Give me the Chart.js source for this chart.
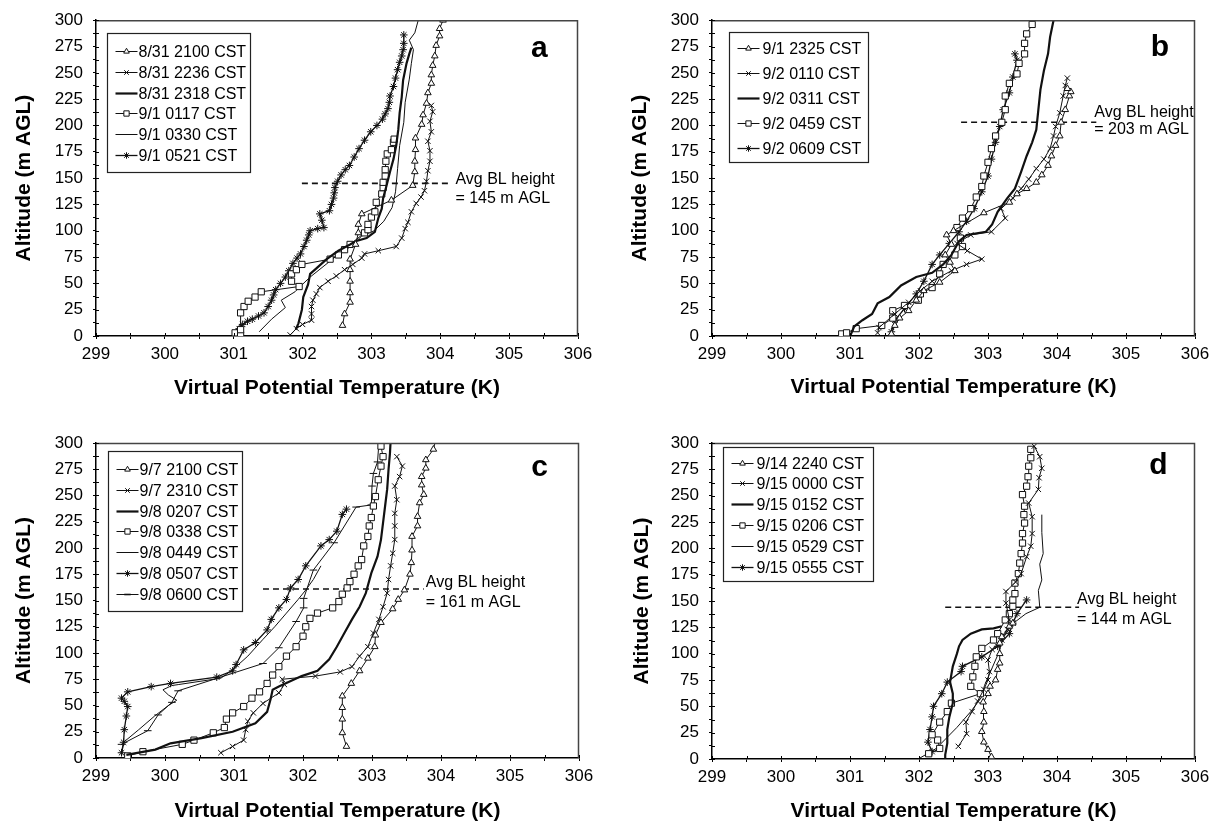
<!DOCTYPE html>
<html><head><meta charset="utf-8">
<script src="https://cdn.jsdelivr.net/npm/chart.js@4.4.1/dist/chart.umd.min.js"></script>
<style>
html,body{margin:0;padding:0;background:#fff;}
#wrap{position:relative;width:1219px;height:824px;overflow:hidden;}
canvas{position:absolute;}
</style></head><body>
<div id="wrap">
<canvas id="ca" width="610" height="412" style="left:0;top:0"></canvas>
<canvas id="cb" width="609" height="412" style="left:610px;top:0"></canvas>
<canvas id="cc" width="610" height="412" style="left:0;top:412px"></canvas>
<canvas id="cd" width="609" height="412" style="left:610px;top:412px"></canvas>
</div>
<script>
// ---------- axis / labels ----------
const xTitle = 'Virtual Potential Temperature (K)';
const yTitle = 'Altitude (m AGL)';
const xRange = [299, 306];
const yRange = [0, 300];
const panelLetters = ['a', 'b', 'c', 'd'];
const blHeights = [145, 203, 161, 144];
const blSpans = [[301.99, 304.14], [302.61, 304.57], [301.42, 303.75], [302.38, 304.32]];

// ---------- panel a ----------
const a_labels = ['8/31 2100 CST', '8/31 2236 CST', '8/31 2318 CST', '9/1 0117 CST', '9/1 0330 CST', '9/1 0521 CST'];
const a_2100 = [[302.58,10],[302.61,21],[302.69,32],[302.69,41],[302.69,52],[302.69,63],[302.69,73],[302.77,87],[302.81,98],[302.81,106],[302.86,116],[303.29,129],[303.60,143],[303.63,156],[303.63,166],[303.64,177],[303.64,188],[303.73,201],[303.75,210],[303.80,221],[303.82,231],[303.87,240],[303.87,248],[303.89,257],[303.92,266],[303.94,276],[303.99,285],[303.99,292],[304.04,300]];
const a_2236 = [[301.82,1],[301.91,7],[302.00,11],[302.13,15],[302.13,21],[302.13,28],[302.15,34],[302.20,40],[302.25,46],[302.37,52],[302.49,57],[302.61,63],[302.73,68],[302.86,74],[302.90,78],[303.10,81],[303.36,85],[303.44,93],[303.49,102],[303.53,108],[303.58,118],[303.65,126],[303.72,132],[303.77,138],[303.80,147],[303.82,157],[303.85,166],[303.85,176],[303.82,185],[303.87,194],[303.85,204],[303.89,213],[303.87,219]];
const a_2318 = [[301.90,6],[301.94,12],[301.99,25],[302.01,37],[302.08,49],[302.11,59],[302.18,63],[302.35,73],[302.52,81],[302.69,87],[302.77,90],[302.93,93],[303.05,99],[303.10,112],[303.15,121],[303.17,131],[303.22,143],[303.27,156],[303.32,168],[303.36,181],[303.39,196],[303.41,212],[303.44,227],[303.46,243],[303.51,259],[303.55,268],[303.58,274]];
const a_0117 = [[301.02,3],[301.10,1],[301.10,6],[301.10,22],[301.15,28],[301.21,33],[301.31,37],[301.40,42],[301.95,47],[301.84,52],[301.84,59],[301.91,63],[301.99,68],[302.40,73],[302.52,77],[302.61,82],[302.69,87],[302.90,98],[302.95,101],[302.95,106],[303.00,113],[303.05,118],[303.07,127],[303.15,135],[303.17,141],[303.17,146],[303.20,152],[303.20,158],[303.21,166],[303.23,173],[303.29,177],[303.32,184],[303.33,187]];
const a_0330 = [[301.37,4],[301.55,16],[301.75,27],[301.69,34],[301.89,42],[301.95,46],[302.11,56],[302.53,78],[302.70,85],[302.86,95],[303.04,100],[303.18,109],[303.30,122],[303.35,137],[303.38,159],[303.41,181],[303.47,203],[303.49,222],[303.55,244],[303.58,259],[303.61,272],[303.55,281],[303.63,288],[303.68,300]];
const a_0521 = [[301.04,3],[301.08,7],[301.13,11],[301.20,14],[301.27,16],[301.36,19],[301.44,22],[301.50,28],[301.55,34],[301.58,39],[301.61,44],[301.68,50],[301.75,56],[301.80,62],[301.86,69],[301.92,74],[301.97,78],[302.02,85],[302.06,91],[302.09,96],[302.11,100],[302.22,102],[302.31,103],[302.28,110],[302.25,116],[302.39,119],[302.42,125],[302.45,131],[302.46,136],[302.47,141],[302.51,147],[302.56,153],[302.62,158],[302.68,162],[302.75,170],[302.82,178],[302.90,186],[302.99,194],[303.08,200],[303.16,206],[303.20,211],[303.24,216],[303.26,222],[303.27,228],[303.32,237],[303.35,245],[303.38,253],[303.41,260],[303.44,266],[303.46,272],[303.47,278],[303.47,286]];

// ---------- panel b ----------
const b_labels = ['9/1 2325 CST', '9/2 0110 CST', '9/2 0311 CST', '9/2 0459 CST', '9/2 0609 CST'];
const b_2325 = [[301.60,2],[301.65,10],[301.72,17],[301.85,24],[301.96,34],[302.07,43],[302.30,51],[302.52,62],[302.45,70],[302.38,77],[302.47,87],[302.40,96],[302.50,100],[302.94,117],[303.31,127],[303.42,135],[303.56,140],[303.70,146],[303.78,153],[303.87,162],[303.92,171],[303.98,181],[304.04,190],[304.06,203],[304.12,215],[304.18,228],[304.20,232],[304.15,235]];
const b_0110 = [[301.40,3],[301.42,8],[301.65,21],[301.85,32],[302.02,43],[302.19,52],[302.47,62],[302.69,68],[302.91,73],[302.70,81],[302.55,88],[302.75,96],[303.05,99],[303.25,112],[303.19,121],[303.36,131],[303.48,140],[303.59,149],[303.70,159],[303.81,168],[303.90,178],[303.95,190],[303.98,199],[304.04,212],[304.09,228],[304.12,238],[304.15,245]];
const b_0311 = [[301.01,1],[301.06,9],[301.18,15],[301.32,21],[301.40,31],[301.57,37],[301.74,48],[301.96,56],[302.19,60],[302.35,68],[302.47,77],[302.58,90],[302.69,96],[302.97,99],[303.06,106],[303.14,118],[303.28,131],[303.39,140],[303.48,156],[303.56,171],[303.64,184],[303.70,196],[303.73,215],[303.76,234],[303.81,252],[303.87,268],[303.90,284],[303.95,300]];
const b_0459 = [[300.88,2],[300.95,3],[301.09,7],[301.46,10],[301.62,17],[301.62,24],[301.79,29],[301.99,34],[302.02,40],[302.19,46],[302.30,59],[302.35,68],[302.52,77],[302.63,85],[302.60,93],[302.55,103],[302.63,112],[302.75,121],[302.83,132],[302.91,142],[302.94,152],[303.00,165],[303.05,178],[303.11,190],[303.20,203],[303.25,215],[303.25,228],[303.31,240],[303.42,249],[303.45,259],[303.53,268],[303.53,278],[303.56,287],[303.64,296]];
const b_0609 = [[301.60,4],[301.65,15],[301.79,26],[301.96,40],[302.07,52],[302.19,68],[302.30,77],[302.44,88],[302.58,99],[302.69,109],[302.80,121],[302.91,137],[303.00,152],[303.05,168],[303.11,184],[303.17,199],[303.22,215],[303.31,231],[303.36,246],[303.42,262],[303.39,268]];

// ---------- panel c ----------
const c_labels = ['9/7 2100 CST', '9/7 2310 CST', '9/8 0207 CST', '9/8 0338 CST', '9/8 0449 CST', '9/8 0507 CST', '9/8 0600 CST'];
const c_2100 = [[302.63,11],[302.57,24],[302.57,37],[302.57,48],[302.57,59],[302.70,71],[302.82,83],[302.94,95],[303.04,106],[303.05,117],[303.13,129],[303.30,142],[303.38,151],[303.47,160],[303.55,175],[303.57,186],[303.58,198],[303.58,211],[303.66,221],[303.66,230],[303.69,243],[303.75,251],[303.72,260],[303.72,268],[303.78,276],[303.78,284],[303.89,294],[303.92,302]];
const c_2310 = [[300.81,5],[300.98,11],[301.14,17],[301.17,27],[301.20,35],[301.28,43],[301.42,52],[301.65,62],[301.73,70],[301.70,75],[302.18,78],[302.54,82],[302.71,87],[302.82,97],[302.94,106],[303.02,119],[303.10,132],[303.16,144],[303.22,157],[303.24,170],[303.27,183],[303.30,195],[303.33,208],[303.33,221],[303.33,233],[303.36,246],[303.33,259],[303.40,268],[303.44,278],[303.36,287]];
const c_0207 = [[299.44,3],[299.86,8],[300.08,14],[300.53,19],[300.98,25],[301.31,33],[301.48,44],[301.53,56],[301.56,65],[301.65,68],[301.98,78],[302.21,83],[302.38,94],[302.49,106],[302.60,119],[302.71,132],[302.82,144],[302.91,157],[302.99,176],[303.08,192],[303.13,208],[303.16,224],[303.19,240],[303.22,256],[303.24,275],[303.26,290],[303.27,302]];
const c_0338 = [[299.46,2],[299.68,6],[300.25,13],[300.42,17],[300.70,24],[300.86,29],[300.89,37],[300.98,43],[301.14,49],[301.26,57],[301.37,63],[301.48,71],[301.56,79],[301.65,87],[301.76,97],[301.90,106],[302.00,116],[302.04,125],[302.10,133],[302.21,138],[302.43,143],[302.52,149],[302.57,156],[302.64,162],[302.68,168],[302.74,175],[302.80,183],[302.85,189],[302.88,202],[302.94,211],[302.96,221],[302.99,229],[303.02,240],[303.05,249],[303.09,265],[303.13,278],[303.16,287],[303.13,297]];
const c_0449 = [[299.37,2],[299.40,15],[299.62,27],[299.85,40],[300.05,50],[300.17,55],[300.05,60],[299.97,65],[300.10,69],[300.20,70],[300.81,76],[300.98,84],[301.20,97],[301.42,113],[301.59,125],[301.76,138],[301.93,151],[302.04,160],[302.15,170],[302.26,183]];
const c_0507 = [[299.37,5],[299.40,15],[299.41,27],[299.44,40],[299.46,49],[299.41,54],[299.37,57],[299.46,63],[299.80,68],[300.08,71],[300.75,77],[300.98,83],[301.03,89],[301.14,103],[301.31,110],[301.48,122],[301.54,132],[301.65,143],[301.76,151],[301.82,162],[301.93,170],[302.04,183],[302.26,202],[302.38,208],[302.49,216],[302.57,232],[302.63,237]];
const c_0600 = [[299.37,13],[299.75,26],[299.90,41],[300.10,53],[300.19,64],[301.42,90],[301.65,105],[301.90,130],[302.01,143],[302.01,152],[302.15,179],[302.45,205],[302.77,239],[302.99,241],[303.00,259],[303.02,271],[303.08,282],[303.10,300]];

// ---------- panel d ----------
const d_labels = ['9/14 2240 CST', '9/15 0000 CST', '9/15 0152 CST', '9/15 0206 CST', '9/15 0529 CST', '9/15 0555 CST'];
const d_2240 = [[303.05,2],[303.00,9],[302.94,16],[302.91,26],[302.94,35],[302.94,45],[302.93,54],[303.00,62],[303.03,69],[303.11,75],[303.14,85],[303.17,91],[303.17,100],[303.17,110],[303.20,116],[303.31,126],[303.36,129]];
const d_0000 = [[302.57,12],[302.69,24],[302.68,35],[302.77,45],[302.85,55],[302.94,66],[303.00,75],[303.02,83],[303.00,94],[303.06,104],[303.20,113],[303.28,123],[303.31,132],[303.26,148],[303.26,159],[303.40,168],[303.48,176],[303.56,192],[303.62,202],[303.64,214],[303.64,230],[303.59,243],[303.73,256],[303.74,267],[303.78,276],[303.75,287],[303.67,297]];
const d_0152 = [[302.38,0],[302.38,4],[302.41,15],[302.41,28],[302.44,40],[302.49,53],[302.49,62],[302.45,73],[302.49,88],[302.55,100],[302.58,107],[302.63,113],[302.75,119],[302.91,123],[303.08,124],[303.20,126]];
const d_0206 = [[302.14,5],[302.30,10],[302.27,18],[302.19,23],[302.30,35],[302.41,45],[302.47,53],[302.89,62],[302.75,69],[302.78,78],[302.81,88],[302.83,97],[302.91,105],[303.08,113],[303.14,119],[303.25,132],[303.31,138],[303.36,145],[303.36,151],[303.39,157],[303.39,167],[303.44,176],[303.46,186],[303.48,195],[303.50,205],[303.50,214],[303.53,224],[303.52,232],[303.53,240],[303.50,251],[303.56,259],[303.58,268],[303.59,278],[303.62,286],[303.62,294]];
const d_0529 = [[301.99,0],[302.25,10],[302.55,30],[302.75,45],[302.90,58],[302.95,70],[303.05,85],[303.15,100],[303.22,115],[303.35,128],[303.55,138],[303.75,144],[303.73,160],[303.78,170],[303.75,185],[303.80,195],[303.78,215],[303.78,232]];
const d_0555 = [[302.19,7],[302.13,16],[302.16,28],[302.19,40],[302.21,50],[302.33,62],[302.41,73],[302.61,83],[302.63,88],[302.91,97],[303.14,107],[303.31,119],[303.36,129],[303.42,138],[303.56,151]];

// ---------- styles ----------
const INK = '#111';
const FONT = "'Liberation Sans', Arial, sans-serif";
const STYLES = {
  tri:   {borderWidth:1, pointStyle:'triangle', pointRadius:3.8, pointBackgroundColor:'#fff'},
  x:     {borderWidth:1, pointStyle:'crossRot', pointRadius:3.8, pointBackgroundColor:'#fff'},
  thick: {borderWidth:2.2, pointRadius:0},
  thin:  {borderWidth:1, pointRadius:0},
  sq:    {borderWidth:1, pointStyle:'rect', pointRadius:4.4, pointBackgroundColor:'#fff'},
  star:  {borderWidth:1.3, pointStyle:'star', pointRadius:3.8, pointBackgroundColor:'#fff'},
  dash:  {borderWidth:1, pointStyle:'line', pointRadius:3.8, pointBackgroundColor:'#fff'}
};

function series(label, pts, style){
  return Object.assign({
    label, inLegend:true,
    data: pts.map(p => ({x:p[0], y:p[1]})),
    showLine:true, borderColor:INK, pointBorderColor:INK, pointBorderWidth:1,
    tension:0, fill:false
  }, STYLES[style], {mstyle: style});
}
function blLine(i){
  return {label:'bl', inLegend:false, showLine:true,
    data:[{x:blSpans[i][0], y:blHeights[i]}, {x:blSpans[i][1], y:blHeights[i]}],
    borderColor:INK, borderWidth:1.6, borderDash:[6,4], pointRadius:0};
}

// ---------- plugins ----------
function drawMarker(ctx, style, x, y, r){
  ctx.beginPath();
  const s = r*Math.SQRT1_2;
  if(style==='tri'){
    ctx.moveTo(x, y-r); ctx.lineTo(x+r*0.87, y+r*0.5); ctx.lineTo(x-r*0.87, y+r*0.5); ctx.closePath();
    ctx.fill(); ctx.stroke();
  } else if(style==='sq'){
    ctx.rect(x-s, y-s, 2*s, 2*s); ctx.fill(); ctx.stroke();
  } else if(style==='x'){
    ctx.moveTo(x-s,y-s); ctx.lineTo(x+s,y+s); ctx.moveTo(x-s,y+s); ctx.lineTo(x+s,y-s); ctx.stroke();
  } else if(style==='star'){
    ctx.moveTo(x-s,y-s); ctx.lineTo(x+s,y+s); ctx.moveTo(x-s,y+s); ctx.lineTo(x+s,y-s);
    ctx.moveTo(x,y-r); ctx.lineTo(x,y+r); ctx.moveTo(x-r,y); ctx.lineTo(x+r,y); ctx.stroke();
  } else if(style==='dash'){
    ctx.moveTo(x-r,y); ctx.lineTo(x+r,y); ctx.lineWidth=1.6; ctx.stroke();
  }
}

const framePlugin = {
  id:'frame',
  afterDraw(chart){
    const {ctx, chartArea:a, scales:{x, y}} = chart;
    ctx.save();
    ctx.strokeStyle = '#444'; ctx.lineWidth = 1.5;
    ctx.beginPath();
    ctx.moveTo(a.left, a.top+0.5); ctx.lineTo(a.right-0.5, a.top+0.5); ctx.lineTo(a.right-0.5, a.bottom);
    ctx.stroke();
    ctx.strokeStyle = '#000'; ctx.lineWidth = 1;
    ctx.beginPath();
    x.ticks.forEach(t => { const px = Math.round(x.getPixelForValue(t.value)) + 0.5; ctx.moveTo(px, a.bottom); ctx.lineTo(px, a.bottom-3); });
    y.ticks.forEach(t => { const py = Math.round(y.getPixelForValue(t.value)) + 0.5; ctx.moveTo(a.left, py); ctx.lineTo(a.left+3, py); });
    ctx.stroke();
    ctx.restore();
  }
};

const legendBox = {
  id:'legendBox',
  afterDraw(chart, args, o){
    const {ctx, chartArea:a} = chart;
    const items = chart.data.datasets.filter(d => d.inLegend);
    const x0 = Math.round(a.left + o.dx) + 0.5, y0 = Math.round(a.top + o.dy) + 0.5;
    const h = Math.round(o.pad*2 + o.row*items.length);
    ctx.save();
    ctx.fillStyle = '#fff'; ctx.fillRect(x0, y0, o.w, h);
    ctx.strokeStyle = '#222'; ctx.lineWidth = 1.2; ctx.strokeRect(x0, y0, o.w, h);
    ctx.font = "16px " + FONT; ctx.textBaseline = 'middle';
    items.forEach((d, i) => {
      const cy = Math.round(y0 + o.pad + o.row*(i+0.5)) + 0.5;
      ctx.strokeStyle = INK; ctx.lineWidth = d.borderWidth;
      ctx.beginPath(); ctx.moveTo(x0+8, cy); ctx.lineTo(x0+30, cy); ctx.stroke();
      if(d.pointRadius > 0){ ctx.lineWidth = 1; ctx.fillStyle = '#fff'; drawMarker(ctx, d.mstyle, x0+19, cy, d.pointRadius*0.85); }
      ctx.fillStyle = '#000'; ctx.textAlign = 'left';
      ctx.fillText(d.label, x0 + o.tx, cy + 1);
    });
    ctx.restore();
  }
};

const notesPlugin = {
  id:'notes',
  afterDraw(chart, args, o){
    const {ctx, scales:{x, y}} = chart;
    ctx.save();
    ctx.fillStyle = '#000';
    ctx.font = "bold 30px " + FONT;
    ctx.textAlign = 'center'; ctx.textBaseline = 'middle';
    ctx.fillText(o.letter, x.getPixelForValue(o.letterAt[0]), y.getPixelForValue(o.letterAt[1]));
    ctx.font = "16px " + FONT;
    ctx.textAlign = 'left';
    ctx.fillText('Avg BL height', x.getPixelForValue(o.textX), y.getPixelForValue(o.textY1));
    ctx.fillText('= ' + o.bl + ' m AGL', x.getPixelForValue(o.textX), y.getPixelForValue(o.textY2));
    ctx.restore();
  }
};

Chart.defaults.font.family = FONT;
Chart.defaults.color = '#000';

function makeChart(id, datasets, g, idx, leg, notes){
  return new Chart(document.getElementById(id), {
    type:'scatter',
    data:{datasets},
    plugins:[framePlugin, legendBox, notesPlugin],
    options:{
      responsive:false, animation:false, events:[],
      layout:{padding:{left:0, top:g.top, right:g.right, bottom:0}},
      scales:{
        x:{type:'linear', min:xRange[0], max:xRange[1],
           afterFit(s){ s.height = g.xh; },
           ticks:{stepSize:0.5, autoSkip:false, maxRotation:0, padding:5, font:{size:17},
                  callback:v => Number.isInteger(v) ? String(v) : ''},
           grid:{display:true, drawOnChartArea:false, drawTicks:true, tickLength:3, color:'#000', lineWidth:1},
           border:{display:true, color:'#000', width:1.5},
           title:{display:true, text:xTitle, font:{size:21, weight:'bold'}, padding:{top:0, bottom:g.xtp}}},
        y:{type:'linear', min:yRange[0], max:yRange[1],
           afterFit(s){ s.width = g.yw; },
           ticks:{stepSize:12.5, autoSkip:false, padding:10, font:{size:17},
                  callback:v => (v % 25 === 0) ? String(v) : ''},
           grid:{display:true, drawOnChartArea:false, drawTicks:true, tickLength:3, color:'#000', lineWidth:1},
           border:{display:true, color:'#000', width:1.5},
           title:{display:true, text:yTitle, font:{size:21, weight:'bold'}, padding:{top:g.ytp, bottom:0}}}
      },
      plugins:{legend:{display:false}, tooltip:{enabled:false},
        legendBox:leg,
        notes:Object.assign({letter:panelLetters[idx], bl:blHeights[idx]}, notes)}
    }
  });
}

makeChart('ca', [
  series(a_labels[0], a_2100, 'tri'), series(a_labels[1], a_2236, 'x'), series(a_labels[2], a_2318, 'thick'),
  series(a_labels[3], a_0117, 'sq'), series(a_labels[4], a_0330, 'thin'), series(a_labels[5], a_0521, 'star'), blLine(0)],
  {top:16, right:32, xh:76, yw:96, xtp:11, ytp:12}, 0,
  {dx:11, dy:13, w:143, row:20.8, pad:7, tx:31},
  {letterAt:[305.44,273], textX:304.22, textY1:149, textY2:131});

makeChart('cb', [
  series(b_labels[0], b_2325, 'tri'), series(b_labels[1], b_0110, 'x'), series(b_labels[2], b_0311, 'thick'),
  series(b_labels[3], b_0459, 'sq'), series(b_labels[4], b_0609, 'star'), blLine(1)],
  {top:16, right:24, xh:76, yw:102, xtp:12, ytp:18}, 1,
  {dx:17, dy:12, w:139, row:25, pad:2.5, tx:33},
  {letterAt:[305.49,274], textX:304.54, textY1:212, textY2:196});

makeChart('cc', [
  series(c_labels[0], c_2100, 'tri'), series(c_labels[1], c_2310, 'x'), series(c_labels[2], c_0207, 'thick'),
  series(c_labels[3], c_0338, 'sq'), series(c_labels[4], c_0449, 'thin'), series(c_labels[5], c_0507, 'star'),
  series(c_labels[6], c_0600, 'dash'), blLine(2)],
  {top:31, right:31, xh:66, yw:96, xtp:0, ytp:12}, 2,
  {dx:12, dy:8, w:134, row:20.7, pad:7.5, tx:31},
  {letterAt:[305.43,276], textX:303.78, textY1:167, textY2:148});

makeChart('cd', [
  series(d_labels[0], d_2240, 'tri'), series(d_labels[1], d_0000, 'x'), series(d_labels[2], d_0152, 'thick'),
  series(d_labels[3], d_0206, 'sq'), series(d_labels[4], d_0529, 'thin'), series(d_labels[5], d_0555, 'star'), blLine(3)],
  {top:31, right:24, xh:65, yw:102, xtp:0, ytp:20}, 3,
  {dx:11, dy:4, w:150, row:20.8, pad:4.6, tx:33},
  {letterAt:[305.47,278], textX:304.29, textY1:151, textY2:132});
</script>
</body></html>
